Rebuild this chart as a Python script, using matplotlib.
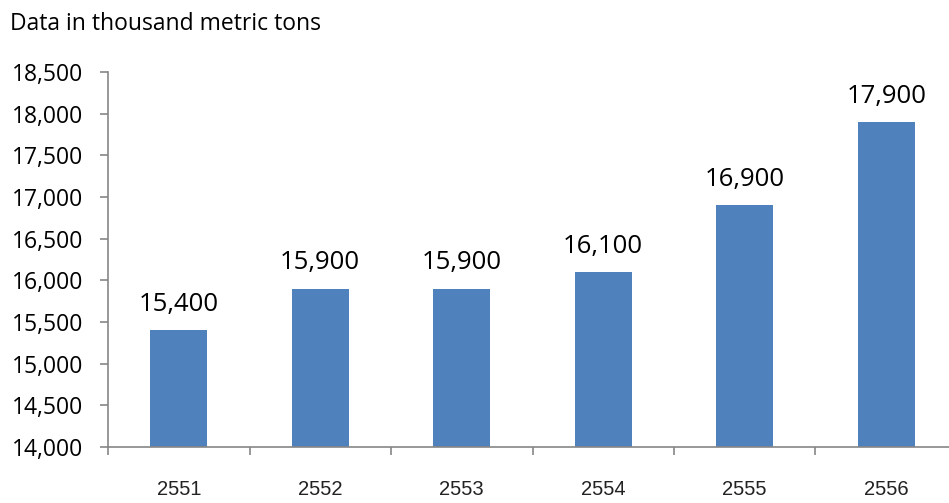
import matplotlib
matplotlib.use("Agg")
import matplotlib.pyplot as plt
from matplotlib.ticker import FuncFormatter

# Data
years = ["2551", "2552", "2553", "2554", "2555", "2556"]
values = [15400, 15900, 15900, 16100, 16900, 17900]

fig = plt.figure(figsize=(9.49, 5.03), dpi=100)
ax = fig.add_axes([108 / 949, 56 / 503, 6 * 141.5 / 949, 375 / 503])

x = range(len(years))
ax.bar(x, values, width=0.4, color="#4F81BD", zorder=2)

for i, v in zip(x, values):
    ax.annotate(f"{v:,}", (i, v), xytext=(0, 14), textcoords="offset points",
                ha="center", va="baseline", fontsize=18.5, family="Open Sans")

ax.set_ylim(14000, 18500)
ax.set_xlim(-0.5, len(years) - 0.5)
ax.set_yticks(range(14000, 18501, 500))
ax.yaxis.set_major_formatter(FuncFormatter(lambda v, p: f"{int(v):,}"))
for lab in ax.get_yticklabels():
    lab.set_family("Open Sans")
    lab.set_fontsize(16.5)

# category labels centred, ticks at the boundaries
ax.set_xticks(list(x))
ax.set_xticklabels(years, family="Liberation Sans", fontsize=14.5, color="#222222")
ax.tick_params(axis="x", length=0, pad=24)
ax.set_xticks([i - 0.5 for i in range(len(years) + 1)], minor=True)
ax.tick_params(axis="x", which="minor", length=6, color="#868686", width=1.2)
ax.tick_params(axis="y", length=6, color="#868686", width=1.2, pad=12)

for s in ["top", "right"]:
    ax.spines[s].set_visible(False)
for s in ["left", "bottom"]:
    ax.spines[s].set_color("#868686")
    ax.spines[s].set_linewidth(1.2)

fig.text(10 / 949, 1 - 30 / 503, "Data in thousand metric tons",
         ha="left", va="baseline", fontsize=16.5, family="Open Sans")

fig.savefig("out.png", dpi=100)
